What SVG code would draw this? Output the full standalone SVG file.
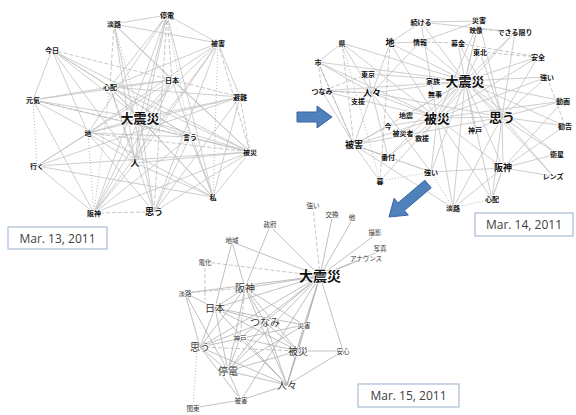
<svg xmlns="http://www.w3.org/2000/svg" width="576" height="415" viewBox="0 0 576 415">
<style>
.e{stroke:#c2c2c2;stroke-width:0.8;fill:none}
.d{stroke:#b8b8b8;stroke-width:0.8;stroke-dasharray:4 2;fill:none}
.o{stroke:#b0b0b0;stroke-width:0.9;stroke-dasharray:1 2;fill:none}
.e3{stroke:#b0b0b0;stroke-width:0.8;fill:none}
text{font-family:"Noto Sans CJK JP","Noto Sans",sans-serif;text-anchor:middle;fill:#111;paint-order:stroke;stroke:#fff;stroke-width:1.5px;stroke-linejoin:round}
.s{font-size:7px;font-weight:bold}
.m{font-size:9px;font-weight:bold}
.l{font-size:13px;font-weight:bold}
.s3{font-size:6.5px;fill:#333}
.m3{font-size:10px;fill:#333}
.l3{font-size:14px;font-weight:bold}
.box{fill:#fff;stroke:#a9bcd3;stroke-width:1.2}
.date{font-family:"Open Sans","Liberation Sans",sans-serif;font-size:12px;fill:#404040;stroke:none;font-weight:normal}
.arr{fill:#4f81bd;stroke:#3a64a0;stroke-width:1}
</style>
<g id="connectors">
<g id="edges-mar13">
<line class="e" x1="52" y1="50" x2="110" y2="87"/><line class="e" x1="52" y1="50" x2="140" y2="118"/><line class="e" x1="52" y1="50" x2="250" y2="152"/><line class="e" x1="52" y1="50" x2="88" y2="133"/><line class="e" x1="52" y1="50" x2="135" y2="163"/><line class="e" x1="52" y1="50" x2="190" y2="137"/>
<line class="e" x1="33" y1="100" x2="52" y2="50"/><line class="e" x1="33" y1="100" x2="110" y2="87"/><line class="e" x1="33" y1="100" x2="140" y2="118"/><line class="e" x1="33" y1="100" x2="172" y2="80"/><line class="e" x1="33" y1="100" x2="213" y2="197"/><line class="e" x1="33" y1="100" x2="250" y2="152"/><line class="e" x1="33" y1="100" x2="94" y2="213"/>
<line class="e" x1="114" y1="24" x2="167" y2="15"/><line class="e" x1="114" y1="24" x2="218" y2="43"/><line class="e" x1="114" y1="24" x2="172" y2="80"/><line class="e" x1="114" y1="24" x2="250" y2="152"/><line class="e" x1="114" y1="24" x2="135" y2="163"/><line class="e" x1="114" y1="24" x2="154" y2="212"/>
<line class="e" x1="167" y1="15" x2="218" y2="43"/><line class="e" x1="167" y1="15" x2="140" y2="118"/><line class="e" x1="167" y1="15" x2="88" y2="133"/><line class="e" x1="167" y1="15" x2="213" y2="197"/><line class="e" x1="167" y1="15" x2="135" y2="163"/><line class="e" x1="167" y1="15" x2="94" y2="213"/><line class="e" x1="167" y1="15" x2="110" y2="87"/>
<line class="e" x1="218" y1="43" x2="140" y2="118"/><line class="e" x1="218" y1="43" x2="240" y2="97"/><line class="e" x1="218" y1="43" x2="88" y2="133"/><line class="e" x1="218" y1="43" x2="94" y2="213"/><line class="e" x1="218" y1="43" x2="135" y2="163"/><line class="e" x1="218" y1="43" x2="110" y2="87"/><line class="e" x1="218" y1="43" x2="154" y2="212"/>
<line class="e" x1="110" y1="87" x2="140" y2="118"/><line class="e" x1="110" y1="87" x2="250" y2="152"/><line class="e" x1="110" y1="87" x2="240" y2="97"/><line class="e" x1="110" y1="87" x2="154" y2="212"/><line class="e" x1="110" y1="87" x2="172" y2="80"/><line class="e" x1="110" y1="87" x2="213" y2="197"/>
<line class="e" x1="172" y1="80" x2="140" y2="118"/><line class="e" x1="172" y1="80" x2="94" y2="213"/><line class="e" x1="172" y1="80" x2="135" y2="163"/><line class="e" x1="172" y1="80" x2="213" y2="197"/><line class="e" x1="172" y1="80" x2="250" y2="152"/><line class="e" x1="172" y1="80" x2="37" y2="166"/>
<line class="e" x1="240" y1="97" x2="140" y2="118"/><line class="e" x1="240" y1="97" x2="37" y2="166"/><line class="e" x1="240" y1="97" x2="88" y2="133"/><line class="e" x1="240" y1="97" x2="154" y2="212"/><line class="e" x1="240" y1="97" x2="213" y2="197"/>
<line class="e" x1="140" y1="118" x2="250" y2="152"/><line class="e" x1="140" y1="118" x2="190" y2="137"/><line class="e" x1="140" y1="118" x2="135" y2="163"/><line class="e" x1="140" y1="118" x2="94" y2="213"/><line class="e" x1="140" y1="118" x2="154" y2="212"/><line class="e" x1="140" y1="118" x2="213" y2="197"/><line class="e" x1="140" y1="118" x2="88" y2="133"/>
<line class="e" x1="88" y1="133" x2="37" y2="166"/><line class="e" x1="88" y1="133" x2="154" y2="212"/><line class="e" x1="88" y1="133" x2="190" y2="137"/><line class="e" x1="88" y1="133" x2="135" y2="163"/>
<line class="e" x1="190" y1="137" x2="250" y2="152"/><line class="e" x1="190" y1="137" x2="94" y2="213"/><line class="e" x1="190" y1="137" x2="213" y2="197"/><line class="e" x1="190" y1="137" x2="154" y2="212"/>
<line class="e" x1="250" y1="152" x2="135" y2="163"/><line class="e" x1="250" y1="152" x2="154" y2="212"/><line class="e" x1="250" y1="152" x2="94" y2="213"/><line class="e" x1="250" y1="152" x2="213" y2="197"/>
<line class="e" x1="135" y1="163" x2="213" y2="197"/><line class="e" x1="135" y1="163" x2="94" y2="213"/><line class="e" x1="37" y1="166" x2="213" y2="197"/><line class="e" x1="37" y1="166" x2="94" y2="213"/><line class="e" x1="37" y1="166" x2="250" y2="152"/>
<line class="d" x1="114" y1="24" x2="110" y2="87"/><line class="d" x1="167" y1="15" x2="172" y2="80"/><line class="d" x1="172" y1="80" x2="240" y2="97"/><line class="d" x1="33" y1="100" x2="190" y2="137"/><line class="d" x1="110" y1="87" x2="190" y2="137"/><line class="d" x1="88" y1="133" x2="250" y2="152"/><line class="d" x1="167" y1="15" x2="154" y2="212"/><line class="d" x1="218" y1="43" x2="250" y2="152"/><line class="d" x1="110" y1="87" x2="135" y2="163"/><line class="d" x1="94" y1="213" x2="154" y2="212"/><line class="d" x1="52" y1="50" x2="172" y2="80"/><line class="d" x1="240" y1="97" x2="250" y2="152"/>
<line class="o" x1="33" y1="100" x2="37" y2="166"/><line class="o" x1="88" y1="133" x2="94" y2="213"/><line class="o" x1="110" y1="87" x2="94" y2="213"/><line class="o" x1="218" y1="43" x2="213" y2="197"/><line class="o" x1="167" y1="15" x2="190" y2="137"/><line class="o" x1="114" y1="24" x2="140" y2="118"/>
</g>
<g id="edges-mar14">
<line class="e" x1="465" y1="81" x2="421" y2="22"/><line class="e" x1="465" y1="81" x2="479" y2="21"/><line class="e" x1="465" y1="81" x2="477" y2="29"/><line class="e" x1="465" y1="81" x2="515" y2="32"/><line class="e" x1="465" y1="81" x2="390" y2="43"/><line class="e" x1="465" y1="81" x2="420" y2="42"/><line class="e" x1="465" y1="81" x2="458" y2="43"/><line class="e" x1="465" y1="81" x2="480" y2="52"/><line class="e" x1="465" y1="81" x2="538" y2="57"/><line class="e" x1="465" y1="81" x2="547" y2="77"/><line class="e" x1="465" y1="81" x2="372" y2="93"/><line class="e" x1="465" y1="81" x2="437" y2="118"/><line class="e" x1="465" y1="81" x2="502" y2="117"/><line class="e" x1="465" y1="81" x2="354" y2="145"/><line class="e" x1="465" y1="81" x2="563" y2="101"/><line class="e" x1="465" y1="81" x2="565" y2="126"/><line class="e" x1="465" y1="81" x2="503" y2="168"/><line class="e" x1="465" y1="81" x2="557" y2="154"/><line class="e" x1="465" y1="81" x2="553" y2="176"/><line class="e" x1="465" y1="81" x2="492" y2="199"/><line class="e" x1="465" y1="81" x2="453" y2="208"/><line class="e" x1="465" y1="81" x2="431" y2="172"/><line class="e" x1="465" y1="81" x2="388" y2="157"/><line class="e" x1="465" y1="81" x2="318" y2="62"/><line class="e" x1="465" y1="81" x2="322" y2="91"/><line class="e" x1="465" y1="81" x2="342" y2="43"/><line class="e" x1="465" y1="81" x2="368" y2="74"/><line class="e" x1="465" y1="81" x2="406" y2="115"/><line class="e" x1="465" y1="81" x2="403" y2="133"/><line class="e" x1="465" y1="81" x2="475" y2="130"/>
<line class="e" x1="437" y1="118" x2="421" y2="22"/><line class="e" x1="437" y1="118" x2="390" y2="43"/><line class="e" x1="437" y1="118" x2="342" y2="43"/><line class="e" x1="437" y1="118" x2="318" y2="62"/><line class="e" x1="437" y1="118" x2="322" y2="91"/><line class="e" x1="437" y1="118" x2="372" y2="93"/><line class="e" x1="437" y1="118" x2="354" y2="145"/><line class="e" x1="437" y1="118" x2="502" y2="117"/><line class="e" x1="437" y1="118" x2="503" y2="168"/><line class="e" x1="437" y1="118" x2="492" y2="199"/><line class="e" x1="437" y1="118" x2="453" y2="208"/><line class="e" x1="437" y1="118" x2="431" y2="172"/><line class="e" x1="437" y1="118" x2="515" y2="32"/><line class="e" x1="437" y1="118" x2="538" y2="57"/><line class="e" x1="437" y1="118" x2="547" y2="77"/><line class="e" x1="437" y1="118" x2="388" y2="157"/><line class="e" x1="437" y1="118" x2="380" y2="181"/><line class="e" x1="437" y1="118" x2="563" y2="101"/><line class="e" x1="437" y1="118" x2="479" y2="21"/><line class="e" x1="437" y1="118" x2="388" y2="126"/><line class="e" x1="437" y1="118" x2="422" y2="138"/>
<line class="e" x1="502" y1="117" x2="479" y2="21"/><line class="e" x1="502" y1="117" x2="515" y2="32"/><line class="e" x1="502" y1="117" x2="538" y2="57"/><line class="e" x1="502" y1="117" x2="547" y2="77"/><line class="e" x1="502" y1="117" x2="563" y2="101"/><line class="e" x1="502" y1="117" x2="565" y2="126"/><line class="e" x1="502" y1="117" x2="557" y2="154"/><line class="e" x1="502" y1="117" x2="553" y2="176"/><line class="e" x1="502" y1="117" x2="503" y2="168"/><line class="e" x1="502" y1="117" x2="492" y2="199"/><line class="e" x1="502" y1="117" x2="372" y2="93"/><line class="e" x1="502" y1="117" x2="458" y2="43"/><line class="e" x1="502" y1="117" x2="354" y2="145"/><line class="e" x1="502" y1="117" x2="480" y2="52"/><line class="e" x1="502" y1="117" x2="453" y2="208"/><line class="e" x1="502" y1="117" x2="475" y2="130"/>
<line class="e" x1="372" y1="93" x2="322" y2="91"/><line class="e" x1="372" y1="93" x2="318" y2="62"/><line class="e" x1="372" y1="93" x2="342" y2="43"/><line class="e" x1="372" y1="93" x2="390" y2="43"/><line class="e" x1="372" y1="93" x2="354" y2="145"/><line class="e" x1="372" y1="93" x2="420" y2="42"/><line class="e" x1="372" y1="93" x2="368" y2="74"/><line class="e" x1="372" y1="93" x2="388" y2="157"/><line class="e" x1="372" y1="93" x2="431" y2="172"/><line class="e" x1="372" y1="93" x2="358" y2="101"/>
<line class="e" x1="354" y1="145" x2="318" y2="62"/><line class="e" x1="354" y1="145" x2="322" y2="91"/><line class="e" x1="354" y1="145" x2="388" y2="157"/><line class="e" x1="354" y1="145" x2="380" y2="181"/><line class="e" x1="354" y1="145" x2="431" y2="172"/><line class="e" x1="354" y1="145" x2="388" y2="126"/><line class="e" x1="354" y1="145" x2="453" y2="208"/>
<line class="e" x1="503" y1="168" x2="557" y2="154"/><line class="e" x1="503" y1="168" x2="553" y2="176"/><line class="e" x1="503" y1="168" x2="492" y2="199"/><line class="e" x1="503" y1="168" x2="453" y2="208"/><line class="e" x1="503" y1="168" x2="431" y2="172"/><line class="e" x1="503" y1="168" x2="565" y2="126"/><line class="e" x1="503" y1="168" x2="563" y2="101"/>
<line class="e" x1="390" y1="43" x2="420" y2="42"/><line class="e" x1="390" y1="43" x2="421" y2="22"/><line class="e" x1="421" y1="22" x2="479" y2="21"/><line class="e" x1="342" y1="43" x2="318" y2="62"/><line class="e" x1="421" y1="22" x2="515" y2="32"/><line class="e" x1="420" y1="42" x2="479" y2="21"/>
<line class="d" x1="390" y1="43" x2="380" y2="181"/><line class="d" x1="342" y1="43" x2="354" y2="145"/><line class="d" x1="318" y1="62" x2="354" y2="145"/><line class="d" x1="420" y1="42" x2="458" y2="43"/><line class="d" x1="458" y1="43" x2="538" y2="57"/><line class="d" x1="480" y1="52" x2="538" y2="57"/><line class="d" x1="477" y1="29" x2="515" y2="32"/><line class="d" x1="547" y1="77" x2="565" y2="126"/><line class="d" x1="368" y1="74" x2="322" y2="91"/><line class="d" x1="322" y1="91" x2="372" y2="93"/><line class="d" x1="318" y1="62" x2="322" y2="91"/>
<line class="o" x1="431" y1="172" x2="453" y2="208"/><line class="o" x1="492" y1="199" x2="453" y2="208"/><line class="o" x1="354" y1="145" x2="431" y2="172"/><line class="o" x1="380" y1="181" x2="431" y2="172"/><line class="o" x1="358" y1="101" x2="380" y2="181"/><line class="o" x1="342" y1="43" x2="358" y2="101"/><line class="o" x1="503" y1="168" x2="492" y2="199"/>
</g>
<g id="edges-mar15">
<line class="d" x1="320" y1="276" x2="313" y2="208"/><line class="d" x1="205" y1="262" x2="320" y2="276"/><line class="d" x1="205" y1="262" x2="205" y2="300"/><line class="d" x1="185" y1="293" x2="245" y2="288"/><line class="d" x1="245" y1="288" x2="240" y2="338"/><line class="d" x1="200" y1="347" x2="298" y2="351"/><line class="o" x1="197" y1="350" x2="193" y2="408"/>
<line class="e3" x1="320" y1="276" x2="332" y2="218"/><line class="e3" x1="320" y1="276" x2="352" y2="220"/><line class="e3" x1="320" y1="276" x2="375" y2="235"/><line class="e3" x1="320" y1="276" x2="380" y2="251"/><line class="e3" x1="320" y1="276" x2="360" y2="260"/>
<line class="e3" x1="270" y1="226" x2="245" y2="288"/><line class="e3" x1="270" y1="226" x2="320" y2="276"/><line class="e3" x1="232" y1="242" x2="320" y2="276"/><line class="e3" x1="232" y1="242" x2="215" y2="308"/><line class="e3" x1="232" y1="242" x2="245" y2="288"/>
<line class="e3" x1="185" y1="293" x2="320" y2="276"/><line class="e3" x1="185" y1="293" x2="215" y2="308"/><line class="e3" x1="185" y1="293" x2="200" y2="347"/><line class="e3" x1="185" y1="293" x2="228" y2="371"/>
<line class="e3" x1="320" y1="276" x2="245" y2="288"/><line class="e3" x1="320" y1="276" x2="215" y2="308"/><line class="e3" x1="320" y1="276" x2="265" y2="322"/><line class="e3" x1="320" y1="276" x2="304" y2="325"/><line class="e3" x1="320" y1="276" x2="240" y2="338"/><line class="e3" x1="320" y1="276" x2="200" y2="347"/><line class="e3" x1="320" y1="276" x2="298" y2="351"/><line class="e3" x1="320" y1="276" x2="343" y2="351"/><line class="e3" x1="320" y1="276" x2="228" y2="371"/><line class="e3" x1="320" y1="276" x2="287" y2="385"/><line class="e3" x1="320" y1="276" x2="241" y2="400"/>
<line class="e3" x1="245" y1="288" x2="215" y2="308"/><line class="e3" x1="245" y1="288" x2="200" y2="347"/><line class="e3" x1="245" y1="288" x2="228" y2="371"/><line class="e3" x1="245" y1="288" x2="287" y2="385"/><line class="e3" x1="245" y1="288" x2="298" y2="351"/><line class="e3" x1="245" y1="288" x2="265" y2="322"/><line class="e3" x1="245" y1="288" x2="304" y2="325"/>
<line class="e3" x1="215" y1="308" x2="265" y2="322"/><line class="e3" x1="215" y1="308" x2="200" y2="347"/><line class="e3" x1="215" y1="308" x2="298" y2="351"/><line class="e3" x1="215" y1="308" x2="228" y2="371"/><line class="e3" x1="215" y1="308" x2="287" y2="385"/><line class="e3" x1="215" y1="308" x2="304" y2="325"/>
<line class="e3" x1="265" y1="322" x2="200" y2="347"/><line class="e3" x1="265" y1="322" x2="298" y2="351"/><line class="e3" x1="265" y1="322" x2="228" y2="371"/><line class="e3" x1="265" y1="322" x2="287" y2="385"/>
<line class="e3" x1="304" y1="325" x2="200" y2="347"/><line class="e3" x1="304" y1="325" x2="287" y2="385"/><line class="e3" x1="304" y1="325" x2="228" y2="371"/>
<line class="e3" x1="240" y1="338" x2="228" y2="371"/><line class="e3" x1="240" y1="338" x2="287" y2="385"/><line class="e3" x1="240" y1="338" x2="298" y2="351"/>
<line class="e3" x1="200" y1="347" x2="228" y2="371"/><line class="e3" x1="200" y1="347" x2="287" y2="385"/><line class="e3" x1="200" y1="347" x2="241" y2="400"/>
<line class="e3" x1="298" y1="351" x2="343" y2="351"/><line class="e3" x1="298" y1="351" x2="228" y2="371"/><line class="e3" x1="298" y1="351" x2="287" y2="385"/><line class="e3" x1="343" y1="351" x2="287" y2="385"/>
<line class="e3" x1="228" y1="371" x2="287" y2="385"/><line class="e3" x1="228" y1="371" x2="241" y2="400"/><line class="e3" x1="241" y1="400" x2="287" y2="385"/><line class="e3" x1="193" y1="408" x2="241" y2="400"/>
</g>
</g>
<g id="nodes-mar13">
<g id="n13-awaji"><text class="s" x="114" y="27">淡路</text></g>
<g id="n13-teiden"><text class="s" x="167" y="18">停電</text></g>
<g id="n13-kyou"><text class="s" x="52" y="53">今日</text></g>
<g id="n13-higai"><text class="s" x="218" y="46">被害</text></g>
<g id="n13-shinpai"><text class="s" x="110" y="90">心配</text></g>
<g id="n13-nihon"><text class="s" x="172" y="83">日本</text></g>
<g id="n13-genki"><text class="s" x="33" y="103">元気</text></g>
<g id="n13-daishinsai"><text class="l" x="140" y="123">大震災</text></g>
<g id="n13-hinan"><text class="s" x="240" y="100">避難</text></g>
<g id="n13-chi"><text class="s" x="88" y="136">地</text></g>
<g id="n13-iu"><text class="s" x="190" y="140">言う</text></g>
<g id="n13-hisai"><text class="s" x="250" y="155">被災</text></g>
<g id="n13-iku"><text class="s" x="37" y="169">行く</text></g>
<g id="n13-hito"><text class="m" x="135" y="166">人</text></g>
<g id="n13-watashi"><text class="s" x="213" y="200">私</text></g>
<g id="n13-hanshin"><text class="s" x="94" y="216">阪神</text></g>
<g id="n13-omou"><text class="m" x="154" y="215">思う</text></g>
</g>
<g id="nodes-mar14">
<g id="n14-a"><text class="s" x="421" y="25">続ける</text></g>
<g id="n14-b"><text class="s" x="479" y="23">災害</text></g>
<g id="n14-c"><text class="s" x="476" y="33" style="font-size:6.5px">映像</text></g>
<g id="n14-d"><text class="s" x="515" y="35">できる限り</text></g>
<g id="n14-e"><text class="s" x="342" y="46">県</text></g>
<g id="n14-f"><text class="m" x="390" y="46">地</text></g>
<g id="n14-g"><text class="s" x="420" y="45">情報</text></g>
<g id="n14-h"><text class="s" x="458" y="46">募金</text></g>
<g id="n14-i"><text class="s" x="480" y="55">東北</text></g>
<g id="n14-j"><text class="s" x="538" y="60">安全</text></g>
<g id="n14-k"><text class="s" x="318" y="65">市</text></g>
<g id="n14-l"><text class="s" x="368" y="77">東京</text></g>
<g id="n14-m"><text class="s" x="547" y="80">強い</text></g>
<g id="n14-n"><text class="s" x="322" y="94">つなみ</text></g>
<g id="n14-o"><text class="m" x="372" y="96">人々</text></g>
<g id="n14-q"><text class="s" x="433" y="84">家族</text></g>
<g id="n14-q2"><text class="s" x="435" y="97">無事</text></g>
<g id="n14-p"><text class="l" x="465" y="86">大震災</text></g>
<g id="n14-r"><text class="l" x="437" y="123">被災</text></g>
<g id="n14-s"><text class="l" x="502" y="122">思う</text></g>
<g id="n14-t"><text class="m" x="354" y="148">被害</text></g>
<g id="n14-u"><text class="s" x="563" y="104">動画</text></g>
<g id="n14-v"><text class="s" x="565" y="129">勧告</text></g>
<g id="n14-w"><text class="m" x="503" y="171">阪神</text></g>
<g id="n14-x"><text class="s" x="557" y="157">衛星</text></g>
<g id="n14-y"><text class="s" x="553" y="179">レンズ</text></g>
<g id="n14-z"><text class="s" x="492" y="202">心配</text></g>
<g id="n14-aa"><text class="s" x="453" y="211">淡路</text></g>
<g id="n14-bb"><text class="s" x="431" y="175">強い</text></g>
<g id="n14-cc"><text class="s" x="388" y="160">番付</text></g>
<g id="n14-dd"><text class="s" x="380" y="184">暮</text></g>
<g id="n14-s1"><text class="s" x="358" y="104">支援</text></g>
<g id="n14-s2"><text class="s" x="406" y="118">地震</text></g>
<g id="n14-s3"><text class="s" x="388" y="129">今</text></g>
<g id="n14-s4"><text class="s" x="403" y="136">被災者</text></g>
<g id="n14-s5"><text class="s" x="422" y="141">救援</text></g>
<g id="n14-s6"><text class="s" x="475" y="133">神戸</text></g>
</g>
<g id="nodes-mar15">
<g id="n15-tsuyoi"><text class="s3" x="313" y="208">強い</text></g>
<g id="n15-koukan"><text class="s3" x="332" y="217">交換</text></g>
<g id="n15-ta"><text class="s3" x="352" y="220">他</text></g>
<g id="n15-seifu"><text class="s3" x="270" y="227">政府</text></g>
<g id="n15-chiiki"><text class="s3" x="232" y="243">地域</text></g>
<g id="n15-satsuei"><text class="s3" x="375" y="235">撮影</text></g>
<g id="n15-shashin"><text class="s3" x="380" y="251">写真</text></g>
<g id="n15-announce"><text class="s3" x="366" y="261">アナウンス</text></g>
<g id="n15-denka"><text class="s3" x="205" y="265">電化</text></g>
<g id="n15-daishinsai"><text class="l3" x="320" y="281">大震災</text></g>
<g id="n15-awaji"><text class="s3" x="185" y="296">淡路</text></g>
<g id="n15-hanshin"><text class="m3" x="245" y="292">阪神</text></g>
<g id="n15-nihon"><text class="m3" x="215" y="312">日本</text></g>
<g id="n15-tsunami"><text class="m3" x="265" y="326">つなみ</text></g>
<g id="n15-saigai"><text class="s3" x="304" y="328">災害</text></g>
<g id="n15-koube"><text class="s3" x="240" y="341">神戸</text></g>
<g id="n15-omou"><text class="m3" x="200" y="351">思う</text></g>
<g id="n15-hisai"><text class="m3" x="298" y="355">被災</text></g>
<g id="n15-anshin"><text class="s3" x="343" y="354">安心</text></g>
<g id="n15-teiden"><text class="m3" x="228" y="375">停電</text></g>
<g id="n15-hitobito"><text class="m3" x="287" y="389">人々</text></g>
<g id="n15-higai"><text class="s3" x="241" y="403">被害</text></g>
<g id="n15-kantou"><text class="s3" x="193" y="411">関東</text></g>
</g>
<g id="arrows">
<polygon class="arr" points="297,112 317,112 317,106 332,117 317,128 317,122 297,122"/>
<polygon class="arr" points="424.8,180.2 398,202.9 394.1,198.3 389,217 408.3,215.1 404.4,210.5 431.2,187.8"/>
</g>
<g id="date-labels">
<g id="label-mar13"><rect class="box" x="8" y="227" width="99" height="22"/><text class="date" x="57.5" y="242.5">Mar. 13, 2011</text></g>
<g id="label-mar14"><rect class="box" x="475" y="213" width="98" height="23"/><text class="date" x="524" y="229">Mar. 14, 2011</text></g>
<g id="label-mar15"><rect class="box" x="358" y="384" width="101" height="23"/><text class="date" x="408.5" y="400">Mar. 15, 2011</text></g>
</g>
</svg>
